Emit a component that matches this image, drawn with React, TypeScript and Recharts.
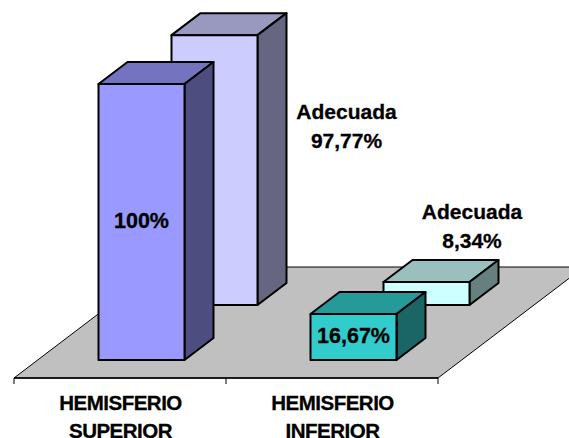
import { BarChart, Bar, XAxis, YAxis, LabelList, usePlotArea } from "recharts";

const categories = ["HEMISFERIO SUPERIOR", "HEMISFERIO INFERIOR"];
const frontValues = [100, 16.67];
const backValues = [97.77, 8.34];
const frontLabels = ["100%", "16,67%"];
const backLabels = ["Adecuada 97,77%", "Adecuada 8,34%"];

const frontColors = [
  { face: "#9999FF", top: "#7373BF", side: "#4D4D80" },
  { face: "#33CCCC", top: "#269999", side: "#1A6666" },
];
const backColors = [
  { face: "#CCCCFF", top: "#9999BF", side: "#666680" },
  { face: "#CCFFFF", top: "#99BFBF", side: "#668080" },
];

const data = categories.map((name, i) => ({
  name,
  front: frontValues[i],
  back: backValues[i],
}));

const FONT = "'Liberation Sans', Arial, sans-serif";
const DEPTH_X = 29;
const DEPTH_Y = 22;
const BAR_WIDTH = 86;

// where each row sits on the floor, relative to the plain 2D bar
const FRONT_SHIFT = { x: 21.5, y: -18 };
const BACK_SHIFT = { x: 94.5, y: -73 };

// the back labels float beside the bars, offset from the bar's centre and top
const backLabelOffsets = [
  { x: 132, y: 84 },
  { x: 45.5, y: -63 },
];

const Box3D = (props: any) => {
  const { x, y, width, height, index, colors, shift } = props;
  const c = colors[index];
  const left = x + shift.x;
  const right = left + width;
  const top = y + shift.y;
  const bottom = top + height;
  return (
    <g stroke="#000" strokeWidth={2} strokeLinejoin="round">
      <polygon
        points={`${left},${top} ${left + DEPTH_X},${top - DEPTH_Y} ${right + DEPTH_X},${top - DEPTH_Y} ${right},${top}`}
        fill={c.top}
      />
      <polygon
        points={`${right},${top} ${right + DEPTH_X},${top - DEPTH_Y} ${right + DEPTH_X},${bottom - DEPTH_Y} ${right},${bottom}`}
        fill={c.side}
      />
      <rect x={left} y={top} width={width} height={height} fill={c.face} />
    </g>
  );
};

const Floor = () => {
  const plot = usePlotArea();
  if (!plot) return null;
  const bottom = plot.y + plot.height;
  const dx = 146;
  const dy = 111;
  const step = plot.width / categories.length;
  const ticks = [0, 1, 2].map((i) => plot.x + i * step);
  return (
    <g>
      <polygon
        points={`${plot.x},${bottom} ${plot.x + plot.width},${bottom} ${plot.x + plot.width + dx},${bottom - dy} ${plot.x + dx},${bottom - dy}`}
        fill="#C0C0C0"
        stroke="#000"
        strokeWidth={1}
      />
      <line x1={plot.x} x2={plot.x + plot.width} y1={bottom} y2={bottom} stroke="#000" strokeWidth={1.5} />
      {ticks.map((t) => (
        <line key={t} x1={t} x2={t} y1={bottom} y2={bottom + 6} stroke="#000" strokeWidth={1} />
      ))}
    </g>
  );
};

const CategoryTick = (props: any) => {
  const { x, payload } = props;
  const lines = String(payload.value).split(" ");
  return (
    <text
      textAnchor="middle"
      fontFamily={FONT}
      fontWeight="bold"
      fontSize={20.5}
      letterSpacing={-0.5}
      fill="#000"
      stroke="#000"
      strokeWidth={0.3}
    >
      {lines.map((line, i) => (
        <tspan key={line} x={x + 0.5} y={410 + i * 28}>
          {line}
        </tspan>
      ))}
    </text>
  );
};

const FrontLabel = (props: any) => {
  const { x, y, width, height, index } = props;
  return (
    <text
      x={x + FRONT_SHIFT.x + width / 2}
      y={y + FRONT_SHIFT.y + height / 2 + 6}
      textAnchor="middle"
      fontFamily={FONT}
      fontWeight="bold"
      fontSize={21.5}
      fill="#000"
      stroke="#000"
      strokeWidth={0.3}
    >
      {frontLabels[index]}
    </text>
  );
};

const BackLabel = (props: any) => {
  const { x, y, width, index } = props;
  const offset = backLabelOffsets[index];
  const cx = x + BACK_SHIFT.x + width / 2 + offset.x;
  const top = y + BACK_SHIFT.y + offset.y;
  return (
    <text
      textAnchor="middle"
      fontFamily={FONT}
      fontWeight="bold"
      fontSize={21}
      fill="#000"
      stroke="#000"
      strokeWidth={0.3}
    >
      {backLabels[index].split(" ").map((line, i) => (
        <tspan key={line} x={cx} y={top + i * 29}>
          {line}
        </tspan>
      ))}
    </text>
  );
};

export default function App() {
  return (
    <div style={{ position: "absolute", left: 0, top: 0 }}>
      <BarChart
        width={569}
        height={438}
        data={data}
        barSize={BAR_WIDTH}
        barGap={-BAR_WIDTH}
        margin={{ top: 102, right: 131, bottom: 0, left: 14 }}
      >
        <Floor />
        <XAxis dataKey="name" height={60} axisLine={false} tickLine={false} tick={<CategoryTick />} interval={0} />
        <YAxis hide domain={[0, 100]} />
        <Bar
          dataKey="back"
          isAnimationActive={false}
          shape={(p: any) => <Box3D {...p} colors={backColors} shift={BACK_SHIFT} />}
        >
          <LabelList dataKey="back" content={<BackLabel />} />
        </Bar>
        <Bar
          dataKey="front"
          isAnimationActive={false}
          shape={(p: any) => <Box3D {...p} colors={frontColors} shift={FRONT_SHIFT} />}
        >
          <LabelList dataKey="front" content={<FrontLabel />} />
        </Bar>
      </BarChart>
    </div>
  );
}
